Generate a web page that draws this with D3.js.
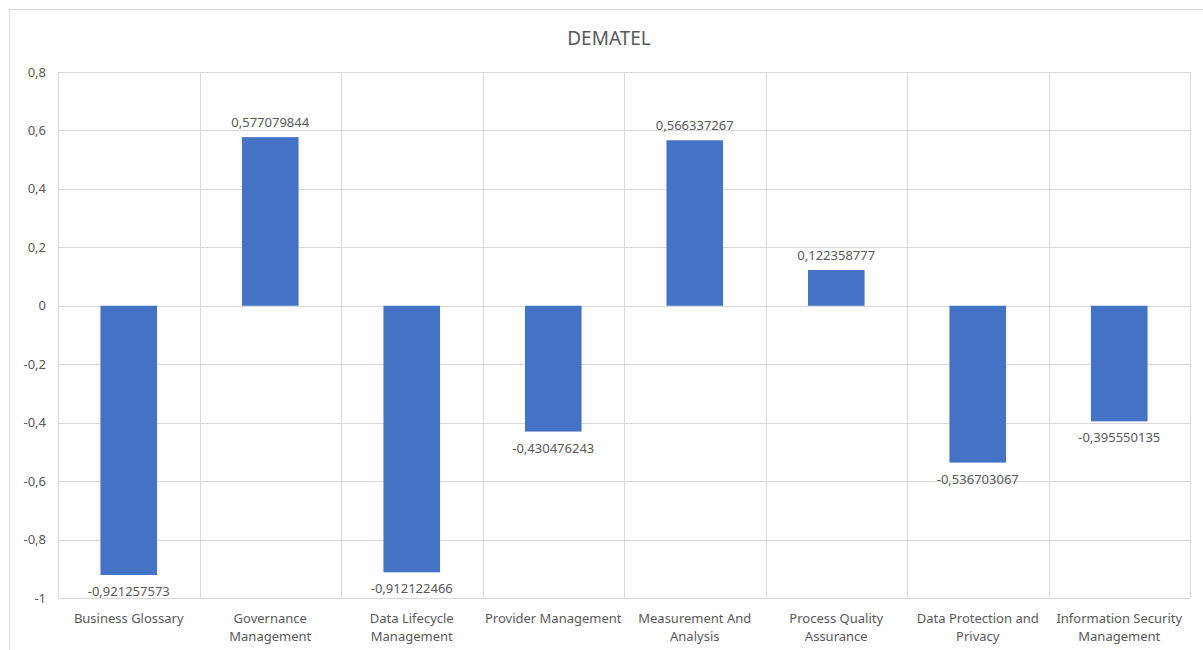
<!DOCTYPE html>
<html><head><meta charset="utf-8">
<script src="https://cdn.jsdelivr.net/npm/d3@7"></script>
<style>body{margin:0;background:#fff;} svg{display:block;} text{font-family:"Noto Sans","Open Sans",sans-serif;fill:#595959;}</style>
</head><body>
<svg id="chart" width="1203" height="650"></svg>
<script>
const categories = [["Business Glossary"],["Governance","Management"],["Data Lifecycle","Management"],["Provider Management"],["Measurement And","Analysis"],["Process Quality","Assurance"],["Data Protection and","Privacy"],["Information Security","Management"]];
const values = [-0.921257573, 0.577079844, -0.912122466, -0.430476243, 0.566337267, 0.122358777, -0.536703067, -0.395550135];
const valueLabels = ["-0,921257573","0,577079844","-0,912122466","-0,430476243","0,566337267","0,122358777","-0,536703067","-0,395550135"];
const yTicks = [0.8,0.6,0.4,0.2,0,-0.2,-0.4,-0.6,-0.8,-1];
const yTickLabels = ["0,8","0,6","0,4","0,2","0","-0,2","-0,4","-0,6","-0,8","-1"];
const title = "DEMATEL";

const svg = d3.select("#chart");
const L=58, R=1190, T=72, B=598;
svg.append("rect").attr("x",9.5).attr("y",9.5).attr("width",1300).attr("height",700).attr("fill","#fff").attr("stroke","#D9D9D9");

const x = d3.scaleBand().domain(d3.range(categories.length)).range([L,R]).paddingInner(0).paddingOuter(0);
const y = d3.scaleLinear().domain([-1,0.8]).range([B,T]);

svg.append("g").selectAll("line").data(yTicks).join("line")
 .attr("x1",L).attr("x2",R).attr("y1",d=>Math.round(y(d))+0.5).attr("y2",d=>Math.round(y(d))+0.5)
 .attr("stroke","#D9D9D9").attr("stroke-width",1);
const seps = d3.range(categories.length+1).map(i=> i<categories.length? x(i): R);
svg.append("g").selectAll("line").data(seps).join("line")
 .attr("x1",d=>Math.round(d)+0.5).attr("x2",d=>Math.round(d)+0.5).attr("y1",T).attr("y2",B)
 .attr("stroke","#D9D9D9").attr("stroke-width",1);

svg.append("g").selectAll("text").data(yTicks).join("text")
 .attr("x",46).attr("y",d=>y(d)).attr("dy","0.35em").attr("text-anchor","end")
 .style("font-size","13px").text((d,i)=>yTickLabels[i]);

const bw = x.bandwidth()*0.4;
svg.append("g").selectAll("rect").data(values).join("rect")
 .attr("x",(d,i)=>x(i)+(x.bandwidth()-bw)/2).attr("width",bw)
 .attr("y",d=>y(Math.max(0,d))).attr("height",d=>Math.abs(y(d)-y(0)))
 .attr("fill","#4472C4");

svg.append("g").selectAll("text").data(values).join("text")
 .attr("x",(d,i)=>x(i)+x.bandwidth()/2)
 .attr("y",d=> d>=0 ? y(d)-10 : y(d)+21)
 .attr("text-anchor","middle").style("font-size","13px")
 .text((d,i)=>valueLabels[i]);

const cg = svg.append("g").selectAll("text").data(categories).join("text")
 .attr("x",(d,i)=>x(i)+x.bandwidth()/2).attr("y",623)
 .attr("text-anchor","middle").style("font-size","13px");
cg.selectAll("tspan").data(d=>d).join("tspan")
 .attr("x",function(){return this.parentNode.getAttribute("x");})
 .attr("dy",(d,i)=>i===0?0:18).text(d=>d);

svg.append("text").attr("x",609).attr("y",45).attr("text-anchor","middle")
 .style("font-size","19px").text(title);
</script>
</body></html>
